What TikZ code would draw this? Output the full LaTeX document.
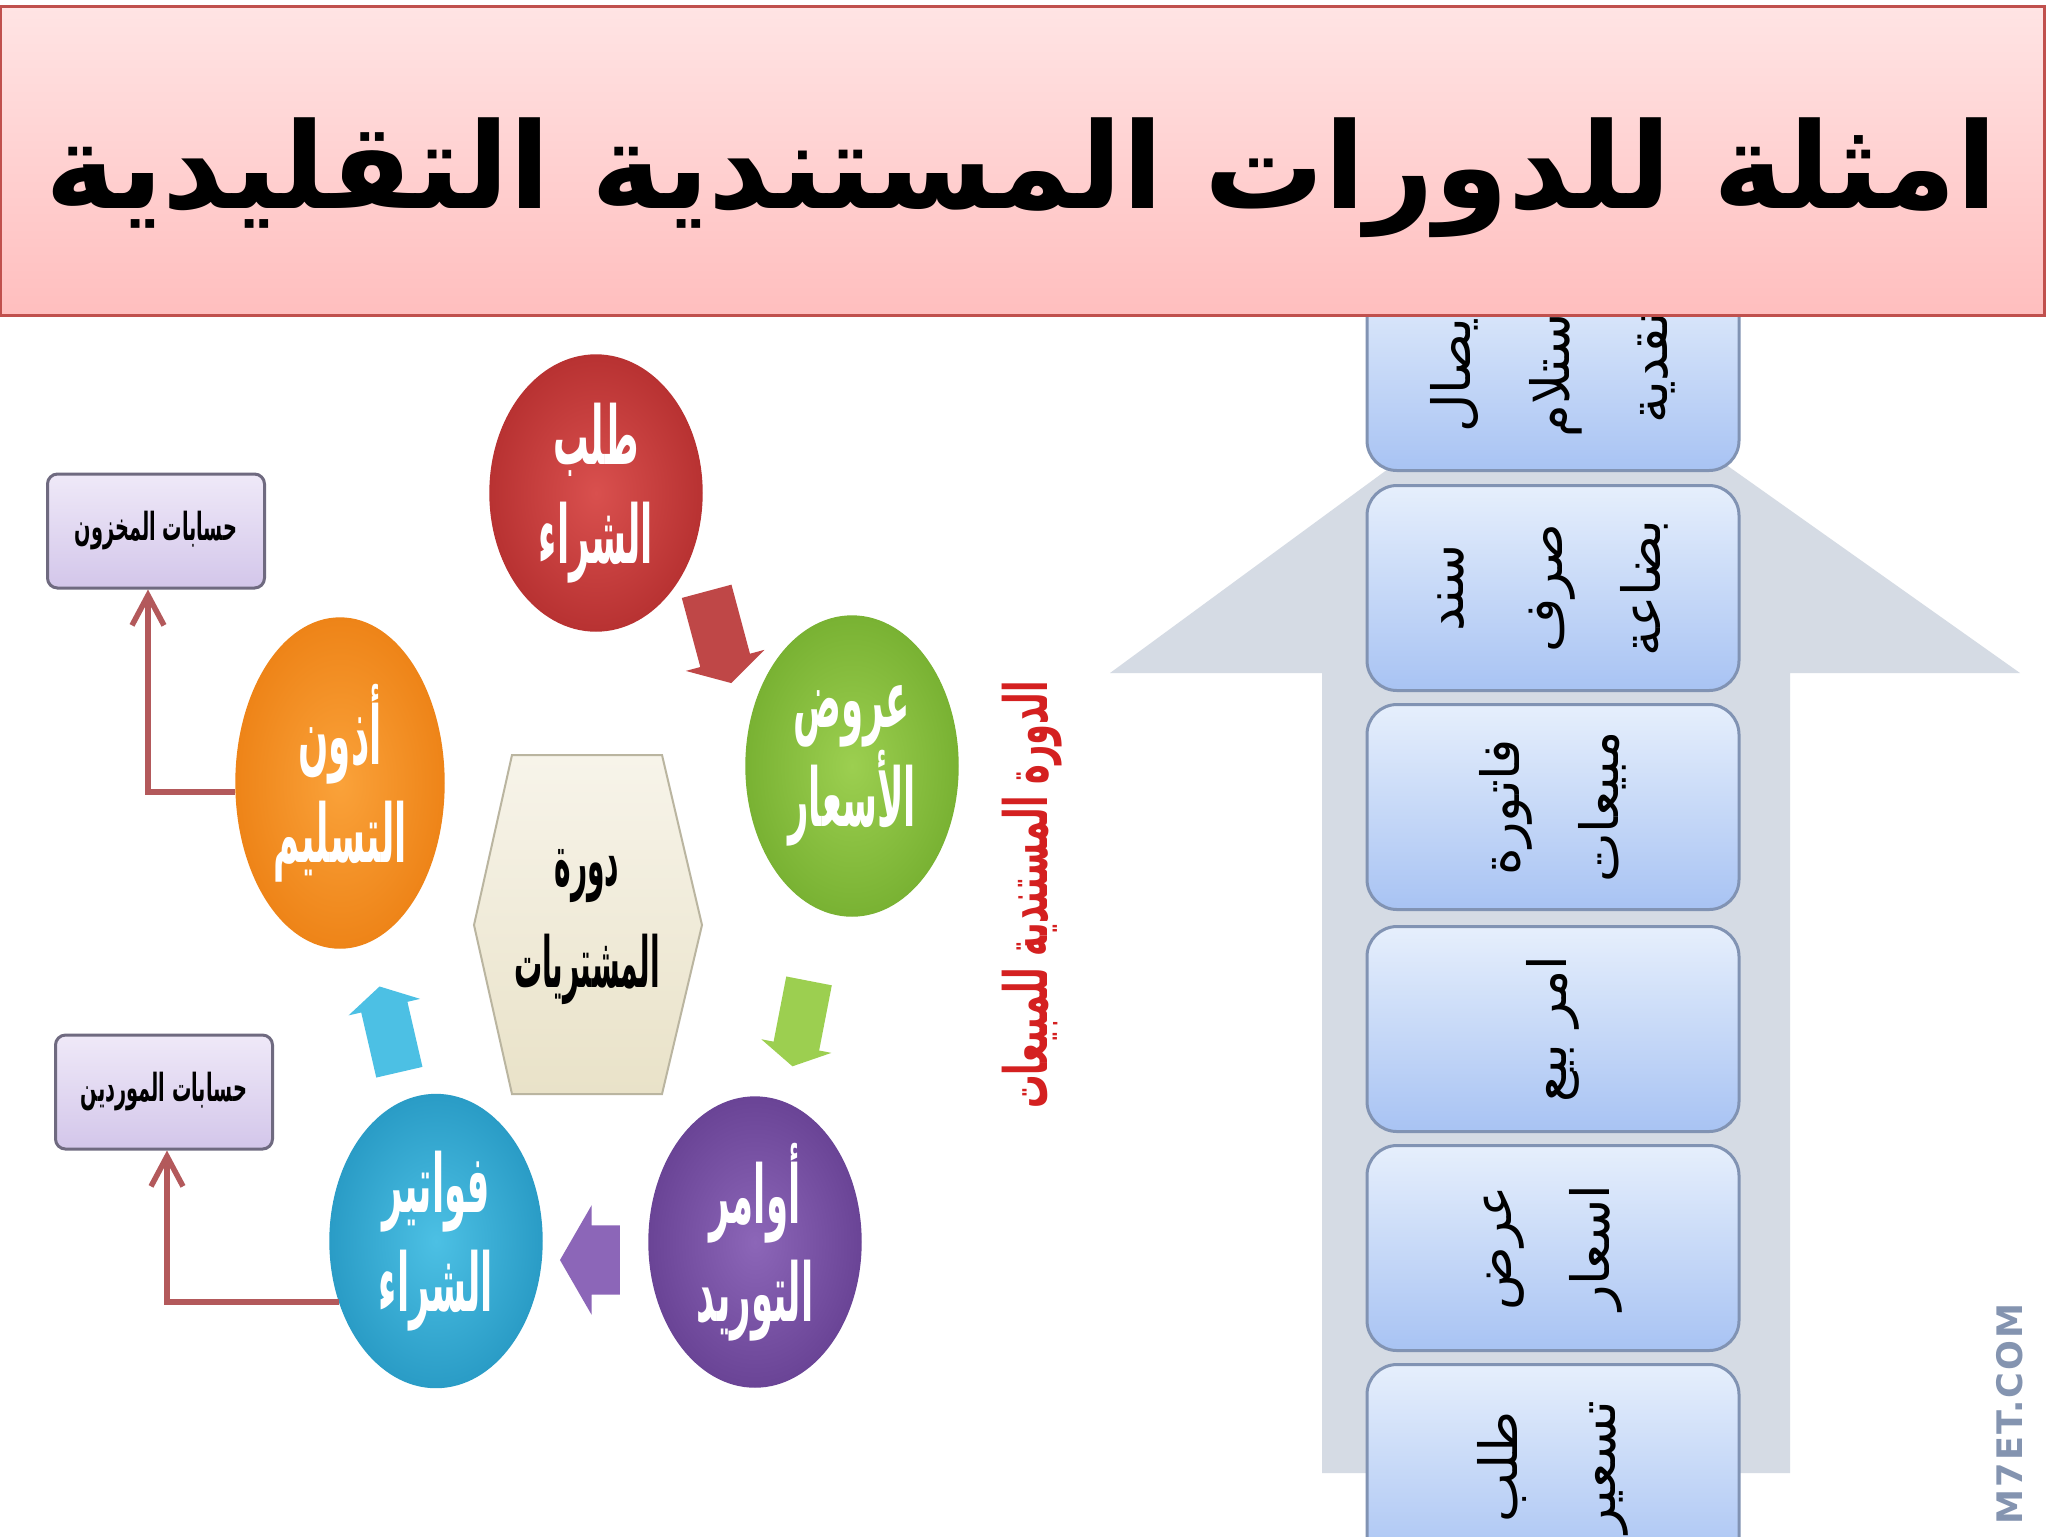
\documentclass[tikz,border=0pt]{standalone}
\usepackage{fontspec}
\usepackage{graphicx}
\setmainfont{DejaVu Sans}
\newfontfamily\arfont[Script=Arabic]{DejaVu Sans}
\newfontfamily\wmfont[LetterSpace=6]{DejaVu Sans}
\TeXXeTstate=1
\usetikzlibrary{shapes.geometric,shapes.arrows,arrows.meta}
\definecolor{redA}{HTML}{D9504E}\definecolor{redB}{HTML}{B83232}
\definecolor{grnA}{HTML}{9CCF50}\definecolor{grnB}{HTML}{79B233}
\definecolor{purA}{HTML}{8C66B8}\definecolor{purB}{HTML}{6A4496}
\definecolor{bluA}{HTML}{4CC0E4}\definecolor{bluB}{HTML}{2A9CC6}
\definecolor{orgA}{HTML}{FAA23A}\definecolor{orgB}{HTML}{EE8418}
\definecolor{hexT}{HTML}{F7F4EA}\definecolor{hexB}{HTML}{E9E2C8}
\definecolor{acctT}{HTML}{EFE9F8}\definecolor{acctB}{HTML}{D3C6EA}
\definecolor{acctline}{HTML}{6F6A80}
\definecolor{linkc}{HTML}{B3595B}
\definecolor{bigarr}{HTML}{D5DBE4}
\definecolor{boxL}{HTML}{E6EFFC}\definecolor{boxR}{HTML}{A8C3F3}
\definecolor{boxline}{HTML}{8193B3}
\definecolor{titT}{HTML}{FFE4E4}\definecolor{titB}{HTML}{FFBEBE}
\definecolor{titline}{HTML}{C0504D}
\definecolor{redtxt}{HTML}{D42020}
\definecolor{wmc}{HTML}{8494B0}
\newcommand\rl[1]{\beginR #1\endR}
\newcommand\cnd[2][0.44]{\scalebox{#1}[1]{\beginR #2\endR}}
\tikzset{
ball/.style={ellipse,minimum width=21.2mm,inner sep=0pt,align=center,text=white,font=\arfont\bfseries\fontsize{23}{28}\selectfont},
blk/.style={single arrow,draw=none,inner xsep=0pt,single arrow tip angle=120},
acct/.style={draw=acctline,line width=0.3mm,rounded corners=1mm,top color=acctT,bottom color=acctB,minimum width=21.7mm,minimum height=11.4mm,font=\arfont\bfseries\fontsize{11}{12}\selectfont},
docbox/.style={draw=boxline,line width=0.3mm,rounded corners=3mm,top color=boxL,bottom color=boxR,minimum width=20.5mm,minimum height=37.2mm,inner sep=0pt,align=center,rotate=90,font=\arfont\fontsize{15}{28}\selectfont},
link/.style={draw=linkc,line width=0.55mm,-{Straight Barb[length=3mm,width=3.2mm]}}
}
\begin{document}
\begin{tikzpicture}[x=0.1mm,y=-0.1mm]
\fill[white](0,0)rectangle(2048,1536);
\useasboundingbox(0,0)rectangle(2048,1536);
\fill[bigarr](1322,1473)--(1322,673)--(1110,673)--(1557,345)--(2020,673)--(1790,673)--(1790,1473)--cycle;
\node[docbox](b1)at(1553,368){\rl{إيصال}\\\rl{استلام}\\\rl{نقدية}};
\node[docbox](b2)at(1553,588){\rl{سند}\\\rl{صرف}\\\rl{بضاعة}};
\node[docbox](b3)at(1553,807){\rl{فاتورة}\\\rl{مبيعات}};
\node[docbox](b4)at(1553,1029){\rl{امر بيع}};
\node[docbox](b5)at(1553,1248){\rl{عرض}\\\rl{اسعار}};
\node[docbox](b6)at(1553,1467){\rl{طلب}\\\rl{تسعير}};
\node[draw=titline,line width=0.3mm,top color=titT,bottom color=titB,minimum width=204.4mm,minimum height=30.9mm,inner sep=0pt](t)at(1022,161){};
\node[font=\arfont\bfseries\fontsize{34}{38}\selectfont](tt)at(1022,178){\rl{امثلة للدورات المستندية التقليدية}};
\node[rotate=90,text=redtxt,font=\arfont\bfseries\fontsize{17}{18}\selectfont](v)at(1032,895){\cnd[0.56]{الدورة المستندية للمبيعات}};
\node[rotate=90,text=wmc,font=\wmfont\bfseries\fontsize{10}{12}\selectfont](w)at(2010,1414){M7ET.COM};
\fill[top color=hexT,bottom color=hexB,draw=hexB!80!black,line width=0.2mm](512,755)--(662,755)--(702,925)--(662,1094)--(512,1094)--(474,925)--cycle;
\node[align=center,font=\arfont\bfseries\fontsize{20}{29}\selectfont](hx)at(587,927){\cnd[0.4]{دورة}\\\cnd[0.4]{المشتريات}};
\node[ball,minimum height=27.6mm,draw=redB,inner color=redA,outer color=redB](c1)at(596,493){\cnd{طلب}\\\cnd{الشراء}};
\node[ball,minimum height=30mm,draw=grnB,inner color=grnA,outer color=grnB](c2)at(852,766){\cnd{عروض}\\\cnd{الأسعار}};
\node[ball,minimum height=29mm,draw=purB,inner color=purA,outer color=purB](c3)at(755,1242){\cnd{أوامر}\\\cnd{التوريد}};
\node[ball,minimum height=29.3mm,draw=bluB,inner color=bluA,outer color=bluB](c4)at(436,1241){\cnd{فواتير}\\\cnd{الشراء}};
\node[ball,minimum height=33mm,minimum width=20.8mm,draw=orgB,inner color=orgA,outer color=orgB](c5)at(340,783){\cnd{أذون}\\\cnd{التسليم}};
\node[blk,fill=redB!90,rotate=-75,minimum height=9.5mm,inner ysep=2.5mm,single arrow head extend=1.5mm](a1)at(717,630){};
\node[blk,fill=grnA,rotate=-101,minimum height=8.7mm,inner ysep=2.25mm,single arrow head extend=1.25mm](a2)at(802,1017){};
\node[blk,fill=purA,rotate=180,minimum height=6mm,inner ysep=3.4mm,single arrow head extend=2mm](a3)at(600,1260){};
\node[blk,fill=bluA,rotate=103,minimum height=8.8mm,inner ysep=2.3mm,single arrow head extend=1.3mm](a4)at(391,1036){};
\node[acct](r1)at(156,531){\cnd[0.5]{حسابات المخزون}};
\node[acct](r2)at(164,1092){\cnd[0.5]{حسابات الموردين}};
\draw[link](c5.185)-|([xshift=-0.8mm]r1.south);
\draw[link](c4.212)-|([xshift=0.3mm]r2.south);
\end{tikzpicture}
\end{document}
